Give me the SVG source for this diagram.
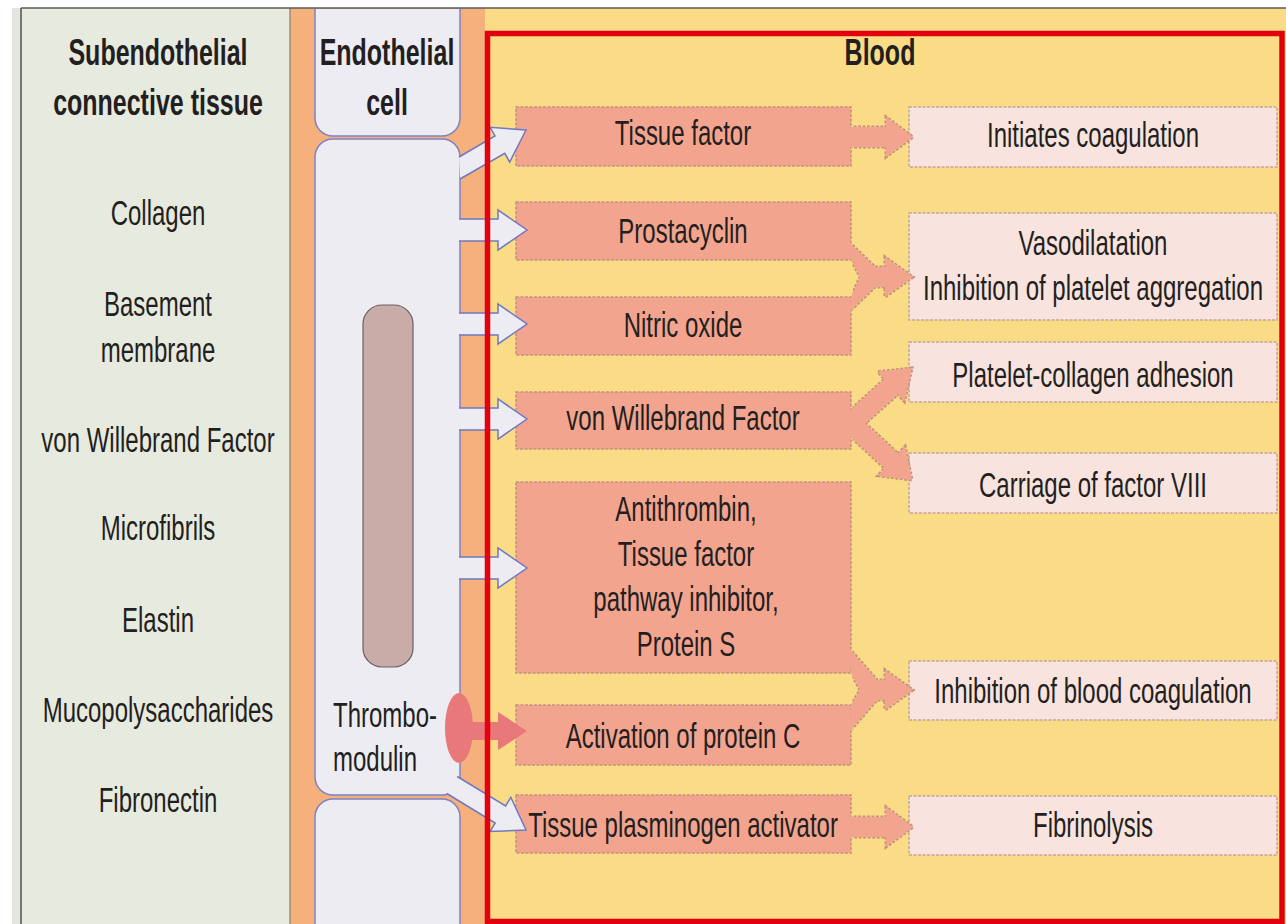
<svg xmlns="http://www.w3.org/2000/svg" width="1286" height="924" viewBox="0 0 1286 924">
<style>
  .t { font-family: "Liberation Sans", Arial, sans-serif; font-size: 24px; fill: #231f20; text-anchor: middle; }
  .b { font-weight: bold; font-size: 25px; }
  .s { text-anchor: start; }
  .cell { fill: #edecf3; stroke: #7c82c4; stroke-width: 1.5; }
  .hollow { fill: #edecf3; stroke: #6f78c0; stroke-width: 1.5; stroke-linejoin: miter; }
  .src { fill: #f3a48f; stroke: #c4917f; stroke-width: 1.5; stroke-dasharray: 3 1.5; }
  .res { fill: #f8e3de; stroke: #c4a49a; stroke-width: 1.5; stroke-dasharray: 3 1.5; }
  .aout { fill: none; stroke: #c4917f; stroke-width: 3; stroke-dasharray: 3 1.5; stroke-linejoin: miter; }
  .afill { fill: #f3a48f; stroke: none; }
  .tm { fill: #e8787a; }
  .frame { stroke: #5a5a5a; stroke-width: 1.6; }
</style>
<defs>
  <clipPath id="outside-src"><rect x="852.5" y="0" width="440" height="924"/></clipPath>
  <path id="a-tf" d="M849,127 L886,127 L886,117 L913,137 L886,157 L886,147 L849,147 Z"/>
  <path id="a-vaso" d="M849,242 L875,267 L885,267 L885,257 L913,277 L885,297 L885,287 L875,287 L849,312 L851,297 L860,277 L851,260 Z"/>
  <path id="a-vwf-up" d="M838.3,420.6 L884.4,379.2 L877.8,371.8 L912,368 L904.4,401.6 L897.8,394.2 L851.7,435.5 Z"/>
  <path id="a-vwf-down" d="M851.8,410.7 L898.2,453.7 L905,446.3 L912,480 L877.8,475.7 L884.6,468.3 L838.2,425.3 Z"/>
  <path id="a-inhib" d="M849,648 L877,680 L885,680 L885,670 L913,690 L885,710 L885,700 L877,700 L849,732 L851,705 L860,690 L851,673 Z"/>
  <path id="a-tpa" d="M849,817 L886,817 L886,807 L913,827 L886,847 L886,837 L849,837 Z"/>
</defs>

<g id="background">
  <rect x="0" y="0" width="1286" height="924" fill="#ffffff"/>
  <rect x="12" y="8" width="9" height="916" fill="#e4e4e0"/>
  <rect x="21" y="8" width="269" height="916" fill="#e7eadf"/>
  <rect x="290" y="8" width="195" height="916" fill="#f5b07c"/>
  <rect x="485" y="8" width="801" height="916" fill="#f9dc85"/>
  <line x1="290" y1="8" x2="290" y2="924" stroke="#8b7c6c" stroke-width="1.2"/>
</g>

<g id="subendothelial-tissue">
  <text class="t b" transform="translate(158 65) scale(1 1.45)"><tspan x="0">Subendothelial</tspan><tspan x="0" dy="34.5">connective tissue</tspan></text>
  <text class="t" transform="translate(158 225) scale(1 1.45)">Collagen</text>
  <text class="t" transform="translate(158 316) scale(1 1.45)"><tspan x="0">Basement</tspan><tspan x="0" dy="31.7">membrane</tspan></text>
  <text class="t" transform="translate(158 452) scale(1 1.45)">von Willebrand Factor</text>
  <text class="t" transform="translate(158 540) scale(1 1.45)">Microfibrils</text>
  <text class="t" transform="translate(158 632) scale(1 1.45)">Elastin</text>
  <text class="t" transform="translate(158 722) scale(1 1.45)">Mucopolysaccharides</text>
  <text class="t" transform="translate(158 812) scale(1 1.45)">Fibronectin</text>
</g>

<g id="endothelial-cell">
  <path class="cell" d="M315,9 L315,118 A18,18 0 0 0 333,136 L442,136 A18,18 0 0 0 460,118 L460,9"/>
  <path class="cell" d="M333,139 L442,139 A18,18 0 0 1 460,157 L460,777 A18,18 0 0 1 442,795 L333,795 A18,18 0 0 1 315,777 L315,157 A18,18 0 0 1 333,139 Z"/>
  <path class="cell" d="M315,930 L315,817 A18,18 0 0 1 333,799 L442,799 A18,18 0 0 1 460,817 L460,930 Z"/>
  <text class="t b" transform="translate(387 65) scale(1 1.45)"><tspan x="0">Endothelial</tspan><tspan x="0" dy="34.5">cell</tspan></text>
  <rect x="363" y="305" width="50" height="362" rx="19" ry="19" fill="#c9aca8" stroke="#6a6060" stroke-width="1.2"/>
</g>

<g id="thrombomodulin">
  <text class="t s" transform="translate(333 727) scale(1 1.45)"><tspan x="0">Thrombo-</tspan><tspan x="0" dy="30.3">modulin</tspan></text>
  <ellipse class="tm" cx="459" cy="728" rx="14" ry="35"/>
</g>

<g id="blood-title">
  <text class="t b" transform="translate(880 65) scale(1 1.45)">Blood</text>
</g>

<g id="node-tissue-factor">
  <rect class="src" x="516" y="107" width="335" height="59"/>
  <text class="t" transform="translate(683 145) scale(1 1.45)">Tissue factor</text>
</g>
<g id="node-prostacyclin">
  <rect class="src" x="516" y="202" width="335" height="58"/>
  <text class="t" transform="translate(683 243) scale(1 1.45)">Prostacyclin</text>
</g>
<g id="node-nitric-oxide">
  <rect class="src" x="516" y="297" width="335" height="58"/>
  <text class="t" transform="translate(683 337) scale(1 1.45)">Nitric oxide</text>
</g>
<g id="node-vwf">
  <rect class="src" x="516" y="392" width="335" height="57"/>
  <text class="t" transform="translate(683 430) scale(1 1.45)">von Willebrand Factor</text>
</g>
<g id="node-anticoagulants">
  <rect class="src" x="516" y="482" width="335" height="191"/>
  <text class="t" transform="translate(686 521) scale(1 1.45)"><tspan x="0">Antithrombin,</tspan><tspan x="0" dy="31">Tissue factor</tspan><tspan x="0" dy="31">pathway inhibitor,</tspan><tspan x="0" dy="31">Protein S</tspan></text>
</g>
<g id="node-protein-c">
  <rect class="src" x="516" y="705" width="335" height="60"/>
  <text class="t" transform="translate(683 748) scale(1 1.45)">Activation of protein C</text>
</g>
<g id="node-tpa">
  <rect class="src" x="516" y="795" width="335" height="58"/>
  <text class="t" transform="translate(683 837) scale(1 1.45)">Tissue plasminogen activator</text>
</g>

<g id="node-initiates">
  <rect class="res" x="909" y="107" width="368" height="60"/>
  <text class="t" transform="translate(1093 147) scale(1 1.45)">Initiates coagulation</text>
</g>
<g id="node-vasodilatation">
  <rect class="res" x="909" y="213" width="368" height="107"/>
  <text class="t" transform="translate(1093 255) scale(1 1.45)"><tspan x="0">Vasodilatation</tspan><tspan x="0" dy="31">Inhibition of platelet aggregation</tspan></text>
</g>
<g id="node-adhesion">
  <rect class="res" x="909" y="342" width="368" height="60"/>
  <text class="t" transform="translate(1093 387) scale(1 1.45)">Platelet-collagen adhesion</text>
</g>
<g id="node-carriage">
  <rect class="res" x="909" y="453" width="368" height="60"/>
  <text class="t" transform="translate(1093 497) scale(1 1.45)">Carriage of factor VIII</text>
</g>
<g id="node-inhibition">
  <rect class="res" x="909" y="661" width="368" height="59"/>
  <text class="t" transform="translate(1093 703) scale(1 1.45)">Inhibition of blood coagulation</text>
</g>
<g id="node-fibrinolysis">
  <rect class="res" x="909" y="796" width="368" height="59"/>
  <text class="t" transform="translate(1093 837) scale(1 1.45)">Fibrinolysis</text>
</g>

<g id="connectors">
  <path class="hollow" d="M459,157 L495,136 L490.1,127.3 L526,130 L509.7,162.1 L504.8,153.4 L460,179"/>
  <path class="hollow" d="M459,219 L498,219 L498,210 L527,230 L498,250 L498,241 L459,241"/>
  <path class="hollow" d="M459,313 L498,313 L498,304 L527,324 L498,344 L498,335 L459,335"/>
  <path class="hollow" d="M459,408 L498,408 L498,399 L527,419 L498,439 L498,430 L459,430"/>
  <path class="hollow" d="M459,557 L498,557 L498,548 L527,568 L498,588 L498,579 L459,579"/>
  <path class="hollow" d="M457.2,776.5 L505.6,805.9 L510.8,797.3 L526,830 L490,831.5 L495.2,823 L446.8,793.5"/>
  <path class="tm" d="M468,722 L498,722 L498,712 L527,731 L498,750 L498,740 L468,740 Z"/>
  <g clip-path="url(#outside-src)">
    <use href="#a-tf" class="aout"/>
    <use href="#a-vaso" class="aout"/>
    <use href="#a-vwf-up" class="aout"/>
    <use href="#a-vwf-down" class="aout"/>
    <use href="#a-inhib" class="aout"/>
    <use href="#a-tpa" class="aout"/>
  </g>
  <use href="#a-tf" class="afill"/>
  <use href="#a-vaso" class="afill"/>
  <use href="#a-vwf-up" class="afill"/>
  <use href="#a-vwf-down" class="afill"/>
  <use href="#a-inhib" class="afill"/>
  <use href="#a-tpa" class="afill"/>
</g>

<g id="frame">
  <line class="frame" x1="21" y1="8" x2="1286" y2="8"/>
  <line class="frame" x1="21" y1="8" x2="21" y2="924"/>
</g>

<g id="highlight">
  <rect x="487.5" y="33.5" width="794.5" height="888" fill="none" stroke="#e3000f" stroke-width="5.5"/>
</g>
</svg>
